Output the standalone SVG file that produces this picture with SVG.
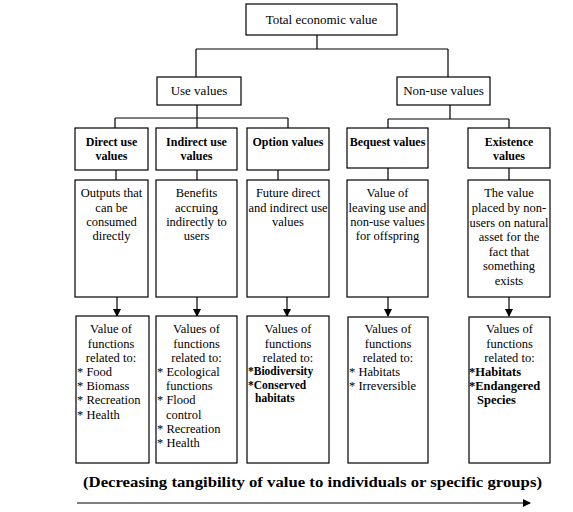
<svg xmlns="http://www.w3.org/2000/svg" width="573" height="512" viewBox="0 0 573 512">
<defs>
<marker id="ah" markerWidth="8" markerHeight="8" refX="7" refY="4" orient="auto" markerUnits="userSpaceOnUse"><path d="M0,0 L8,4 L0,8 Z" fill="#000"/></marker>
</defs>
<style>
rect{fill:#fff;stroke:#000;stroke-width:1.2}
text{font-family:"Liberation Serif","Times New Roman",serif;fill:#000}
.t{font-size:13px;text-anchor:middle}
.h{font-size:12px;font-weight:bold;text-anchor:middle}
.d{font-size:12.5px;text-anchor:middle}
.l{font-size:12.5px}
.b{font-size:11.5px;font-weight:bold}
.c{font-size:14.5px;font-weight:bold}
.ln{fill:none;stroke:#000;stroke-width:1.2}
</style>
<rect width="573" height="512" style="fill:#fff;stroke:none"/>
<g id="connectors" class="ln">
<path d="M317,35 V49 M196,49 H448 M196,49 V77 M448,49 V77"/>
<path d="M197,105 V118 M115,118 H288 M115,118 V128 M197,118 V128 M288,118 V128"/>
<path d="M450,105 V119 M388,119 H509 M388,119 V128 M509,119 V128"/>
<path d="M116,170 V180 M197,170 V180 M278,170 V180 M388,168 V180 M509,168 V180"/>
<path d="M117,297 V316" marker-end="url(#ah)"/>
<path d="M197,297 V316" marker-end="url(#ah)"/>
<path d="M287,297 V316" marker-end="url(#ah)"/>
<path d="M388,297 V316" marker-end="url(#ah)"/>
<path d="M509,297 V316" marker-end="url(#ah)"/>
<path d="M77,503 H530" marker-end="url(#ah)"/>
</g>
<g id="total"><rect x="246" y="4" width="151" height="31"/><text class="t" x="321.5" y="24">Total economic value</text></g>
<g id="use"><rect x="157" y="77" width="84" height="28"/><text class="t" x="199" y="95">Use values</text></g>
<g id="nonuse"><rect x="397" y="77" width="93" height="28"/><text class="t" x="443.5" y="95">Non-use values</text></g>
<g id="direct"><rect x="75" y="128" width="73" height="42"/><text class="h" x="111.5" y="146">Direct use</text><text class="h" x="111.5" y="160">values</text></g>
<g id="indirect"><rect x="156" y="128" width="81" height="42"/><text class="h" x="196.5" y="146">Indirect use</text><text class="h" x="196.5" y="160">values</text></g>
<g id="option"><rect x="247" y="128" width="82" height="42"/><text class="h" x="288" y="146">Option values</text></g>
<g id="bequest"><rect x="347" y="128" width="81" height="40"/><text class="h" x="387.5" y="146">Bequest values</text></g>
<g id="existence"><rect x="468" y="128" width="82" height="40"/><text class="h" x="509" y="146">Existence</text><text class="h" x="509" y="160">values</text></g>
<g id="direct-desc"><rect x="75" y="180" width="73" height="117"/>
<text class="d" x="111.5" y="197">Outputs that</text><text class="d" x="111.5" y="211.5">can be</text><text class="d" x="111.5" y="226">consumed</text><text class="d" x="111.5" y="240">directly</text></g>
<g id="indirect-desc"><rect x="156" y="180" width="81" height="117"/>
<text class="d" x="196.5" y="197">Benefits</text><text class="d" x="196.5" y="211.5">accruing</text><text class="d" x="196.5" y="226">indirectly to</text><text class="d" x="196.5" y="240">users</text></g>
<g id="option-desc"><rect x="247" y="180" width="82" height="117"/>
<text class="d" x="288" y="197">Future direct</text><text class="d" x="288" y="211.5">and indirect use</text><text class="d" x="288" y="226">values</text></g>
<g id="bequest-desc"><rect x="347" y="180" width="81" height="117"/>
<text class="d" x="387.5" y="197">Value of</text><text class="d" x="387.5" y="211.5">leaving use and</text><text class="d" x="387.5" y="226">non-use values</text><text class="d" x="387.5" y="240">for offspring</text></g>
<g id="existence-desc"><rect x="468" y="180" width="82" height="117"/>
<text class="d" x="509" y="197">The value</text><text class="d" x="509" y="212">placed by non-</text><text class="d" x="509" y="226.5">users on natural</text><text class="d" x="509" y="241">asset for the</text><text class="d" x="509" y="255.5">fact that</text><text class="d" x="509" y="270">something</text><text class="d" x="509" y="284.5">exists</text></g>
<g id="direct-func"><rect x="76" y="316" width="73" height="147"/>
<text class="d" x="111" y="333">Value of</text><text class="d" x="111" y="347.5">functions</text><text class="d" x="111" y="361.5">related to:</text>
<text class="l" x="77" y="375.5">* Food</text><text class="l" x="77" y="390">* Biomass</text><text class="l" x="77" y="404">* Recreation</text><text class="l" x="77" y="418.5">* Health</text></g>
<g id="indirect-func"><rect x="156" y="316" width="81" height="147"/>
<text class="d" x="196.5" y="333">Values of</text><text class="d" x="196.5" y="347.5">functions</text><text class="d" x="196.5" y="361.5">related to:</text>
<text class="l" x="157" y="375.5">* Ecological</text><text class="l" x="166" y="390">functions</text><text class="l" x="157" y="404">* Flood</text><text class="l" x="166" y="418.5">control</text><text class="l" x="157" y="432.5">* Recreation</text><text class="l" x="157" y="447">* Health</text></g>
<g id="option-func"><rect x="247" y="316" width="82" height="147"/>
<text class="d" x="288" y="333">Values of</text><text class="d" x="288" y="347.5">functions</text><text class="d" x="288" y="361.5">related to:</text>
<text class="b" x="248" y="375">*Biodiversity</text><text class="b" x="248" y="388.5">*Conserved</text><text class="b" x="255" y="402">habitats</text></g>
<g id="bequest-func"><rect x="348" y="317" width="80" height="146"/>
<text class="d" x="388" y="333">Values of</text><text class="d" x="388" y="347.5">functions</text><text class="d" x="388" y="361.5">related to:</text>
<text class="l" x="349" y="375.5">* Habitats</text><text class="l" x="349" y="390">* Irreversible</text></g>
<g id="existence-func"><rect x="469" y="317" width="81" height="146"/>
<text class="d" x="509.5" y="333">Values of</text><text class="d" x="509.5" y="347.5">functions</text><text class="d" x="509.5" y="361.5">related to:</text>
<text class="l" x="469" y="375.5" style="font-weight:600">*Habitats</text><text class="l" x="469" y="389.5" style="font-weight:600">*Endangered</text><text class="l" x="477" y="403.5" style="font-weight:600">Species</text></g>
<g id="caption"><text class="c" x="83" y="487" textLength="459" lengthAdjust="spacingAndGlyphs">(Decreasing tangibility of value to individuals or specific groups)</text></g>
</svg>
